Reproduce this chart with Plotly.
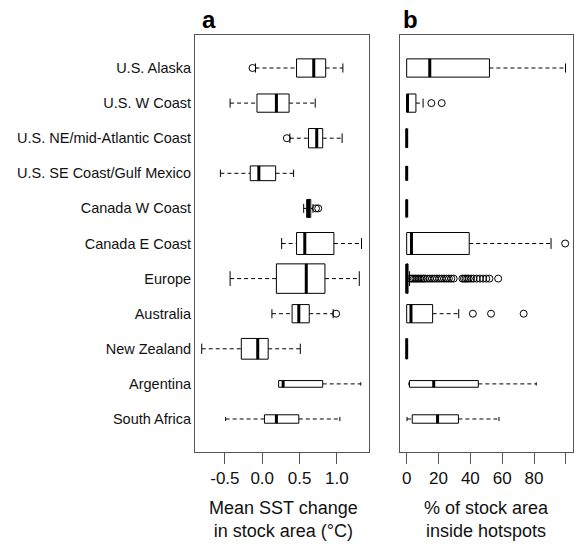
import plotly.graph_objects as go

# Fishing regions, top to bottom
regions = [
    "U.S. Alaska", "U.S. W Coast", "U.S. NE/mid-Atlantic Coast",
    "U.S. SE Coast/Gulf Mexico", "Canada W Coast", "Canada E Coast",
    "Europe", "Australia", "New Zealand", "Argentina", "South Africa",
]

# (a) Mean SST change in stock area (°C): whisker ends, quartiles, outliers
sst_low = [-0.09, -0.43, 0.37, -0.56, 0.555, 0.26, -0.43, 0.13, -0.81, 0.22, -0.49]
sst_q1 = [0.46, -0.07, 0.62, -0.16, 0.595, 0.46, 0.19, 0.40, -0.28, 0.22, 0.03]
sst_med = [0.69, 0.19, 0.73, -0.045, 0.62, 0.57, 0.59, 0.49, -0.06, 0.28, 0.19]
sst_q3 = [0.85, 0.36, 0.81, 0.18, 0.65, 0.96, 0.84, 0.63, 0.08, 0.81, 0.49]
sst_high = [1.08, 0.71, 1.07, 0.42, 0.68, 1.33, 1.30, 0.95, 0.51, 1.32, 1.04]
sst_out = [[-0.13], [], [0.33], [], [0.72, 0.75], [], [], [0.99], [], [], []]

# (b) % of stock area inside hotspots
hot_low = [0, 0, 0, 0, 0, 0, 0, 0, 0, 1.4, 0.2]
hot_q1 = [0, 0, 0, 0, 0, 0, 0, 0, 0, 1.8, 3.5]
hot_med = [14.5, 0.5, 0, 0, 0, 3.0, 0, 2.7, 0, 17.0, 19.4]
hot_q3 = [52.0, 5.8, 0, 0, 0, 39.3, 0.8, 16.3, 0, 45.0, 32.5]
hot_high = [99.8, 10.3, 0, 0, 0, 90.7, 1.8, 32.7, 0, 81.4, 58.0]
hot_out = [
    [], [15.5, 22.0], [], [], [], [99.6],
    [2.5, 3.5, 4.5, 5.5, 6.5, 7.5, 8.5, 9.5, 10.5, 11.5, 13.0, 14.5, 16.0,
     17.5, 19.0, 20.5, 22.0, 23.5, 25.0, 26.5, 28.0, 29.5,
     35.0, 36.0, 37.0, 38.0, 39.0, 40.5, 42.0, 44.0, 46.0, 48.0, 50.0, 52.0,
     57.5],
    [41.6, 53.0, 73.5], [], [], [],
]

# Box thickness along the category axis (proportional to sqrt of stock count)
box_h = [0.52, 0.52, 0.55, 0.42, 0.51, 0.625, 0.84, 0.52, 0.59, 0.19, 0.24]

pos = list(range(1, len(regions) + 1))
FONT = "Liberation Sans, Arial, sans-serif"
FRAME = "#555555"

fig = go.Figure()


def add_panel(low, q1, med, q3, high, outs, xa, ya):
    wx, wy, cx, cy, mx, my, ox, oy = [], [], [], [], [], [], [], []
    for i, p in enumerate(pos):
        h = box_h[i]
        fig.add_trace(go.Box(
            orientation="h", y=[p], q1=[q1[i]], median=[med[i]], q3=[q3[i]],
            lowerfence=[q1[i]], upperfence=[q3[i]], width=h,
            whiskerwidth=0, boxpoints=False, fillcolor="rgba(0,0,0,0)",
            line=dict(color="black", width=1), xaxis=xa, yaxis=ya,
            hoverinfo="skip", showlegend=False,
        ))
        # thick median bar
        mx += [med[i], med[i], None]
        my += [p - h / 2, p + h / 2, None]
        # dashed whiskers with solid staples
        if low[i] < q1[i]:
            wx += [low[i], q1[i], None]
            wy += [p, p, None]
            cx += [low[i], low[i], None]
            cy += [p - h / 4, p + h / 4, None]
        if high[i] > q3[i]:
            wx += [q3[i], high[i], None]
            wy += [p, p, None]
            cx += [high[i], high[i], None]
            cy += [p - h / 4, p + h / 4, None]
        for v in outs[i]:
            ox.append(v)
            oy.append(p)
    fig.add_trace(go.Scatter(x=wx, y=wy, mode="lines", xaxis=xa, yaxis=ya,
                             line=dict(color="black", width=1, dash="4px,3px"),
                             hoverinfo="skip", showlegend=False))
    fig.add_trace(go.Scatter(x=cx, y=cy, mode="lines", xaxis=xa, yaxis=ya,
                             line=dict(color="black", width=1),
                             hoverinfo="skip", showlegend=False))
    fig.add_trace(go.Scatter(x=mx, y=my, mode="lines", xaxis=xa, yaxis=ya,
                             line=dict(color="black", width=3),
                             hoverinfo="skip", showlegend=False))
    fig.add_trace(go.Scatter(x=ox, y=oy, mode="markers", xaxis=xa, yaxis=ya,
                             marker=dict(symbol="circle-open", size=7,
                                         color="black", line=dict(width=1)),
                             hoverinfo="skip", showlegend=False))


add_panel(sst_low, sst_q1, sst_med, sst_q3, sst_high, sst_out, "x", "y")
add_panel(hot_low, hot_q1, hot_med, hot_q3, hot_high, hot_out, "x2", "y2")

W, H = 575, 544
dom_y = [1 - 452 / H, 1 - 35 / H]
axis_common = dict(showline=True, mirror=True, linecolor=FRAME, linewidth=1,
                   showgrid=False, zeroline=False, ticks="outside",
                   ticklen=11, tickcolor=FRAME, tickwidth=1,
                   tickfont=dict(family=FONT, size=17, color="#111"))

fig.update_layout(
    width=W, height=H, margin=dict(l=0, r=0, t=0, b=0),
    paper_bgcolor="white", plot_bgcolor="white", boxmode="overlay",
    xaxis=dict(domain=[195 / W, 369 / W], range=[-0.9, 1.43],
               tickvals=[-0.5, 0.0, 0.5, 1.0],
               ticktext=["-0.5", "0.0", "0.5", "1.0"], **axis_common),
    xaxis2=dict(domain=[400 / W, 573 / W], range=[-4.2, 104.5],
                tickvals=[0, 20, 40, 60, 80, 100],
                ticktext=["0", "20", "40", "60", "80", ""], **axis_common),
    yaxis=dict(domain=dom_y, range=[11.94, 0.06], tickvals=pos,
               ticktext=regions, showline=True, mirror=True,
               linecolor=FRAME, linewidth=1, showgrid=False, zeroline=False,
               ticks="", tickfont=dict(family=FONT, size=14.5, color="#111")),
    yaxis2=dict(domain=dom_y, range=[11.94, 0.06], showticklabels=False,
                showline=True, mirror=True, linecolor=FRAME, linewidth=1,
                showgrid=False, zeroline=False, ticks="", anchor="x2"),
)
fig.layout.xaxis2.anchor = "y2"

annotations = [
    dict(text="<b>a</b>", x=200 / W, y=1 - 20 / H, xanchor="left"),
    dict(text="<b>b</b>", x=401 / W, y=1 - 20 / H, xanchor="left"),
]
for a in annotations:
    a.update(xref="paper", yref="paper", yanchor="middle", showarrow=False,
             font=dict(family=FONT, size=24, color="black"))
    fig.add_annotation(**a)

for text, xc in [("Mean SST change<br>in stock area (°C)", 283),
                 ("% of stock area<br>inside hotspots", 486.5)]:
    fig.add_annotation(text=text, x=xc / W, y=1 - 519 / H, xref="paper",
                       yref="paper", xanchor="center", yanchor="middle",
                       showarrow=False,
                       font=dict(family=FONT, size=18, color="#111"))

fig.write_html("out.html")
